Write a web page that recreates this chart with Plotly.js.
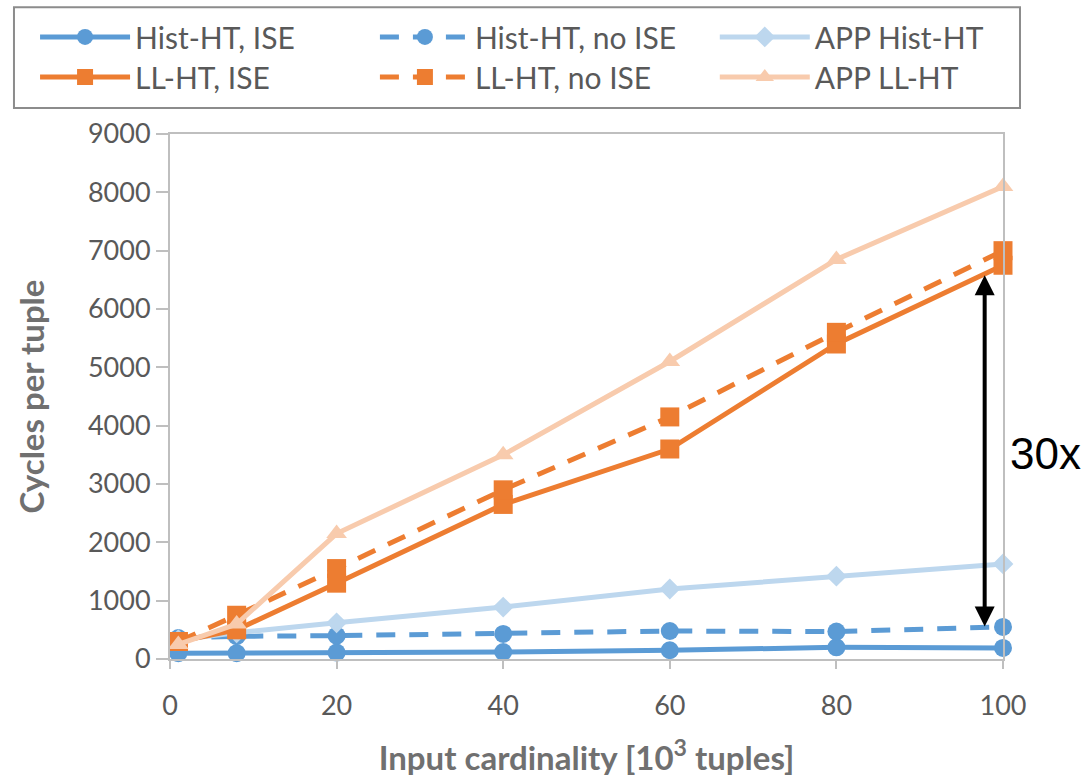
<!DOCTYPE html>
<html>
<head>
<meta charset="utf-8">
<script src="https://cdn.plot.ly/plotly-3.0.1.min.js"></script>
<style>html,body{margin:0;padding:0;background:#fff;}#chart{width:1091px;height:778px;}</style>
</head>
<body>
<div id="chart"></div>
<script>
const cardinality = [1, 8, 20, 40, 60, 80, 100];
const histISE   = [100, 100, 110, 120, 150, 200, 190];
const histNoISE = [360, 390, 400, 430, 480, 470, 550];
const appHist   = [330, 450, 620, 890, 1200, 1420, 1630];
const llISE     = [300, 500, 1300, 2650, 3600, 5400, 6750];
const llNoISE   = [300, 750, 1550, 2900, 4150, 5600, 7000];
const appLL     = [250, 600, 2150, 3500, 5100, 6850, 8100];
const xTicks = [0, 20, 40, 60, 80, 100];
const arrowX = 97.8, arrowTop = 6580, arrowBottom = 530;
const arrowLabel = '30x';

const BLUE = '#5B9BD5', ORANGE = '#ED7D31', LBLUE = '#BDD7EE', LORANGE = '#F8CBAD';
const dash = '19px,14px';
const LW = 5;

const traces = [
  {name:'Hist-HT, ISE', y:histISE, legend:'legend', line:{color:BLUE,width:LW}, marker:{symbol:'circle',size:18,color:BLUE}},
  {name:'Hist-HT, no ISE', y:histNoISE, legend:'legend2', line:{color:BLUE,width:LW,dash:dash}, marker:{symbol:'circle',size:18,color:BLUE}},
  {name:'APP Hist-HT', y:appHist, legend:'legend3', line:{color:LBLUE,width:LW}, marker:{symbol:'diamond',size:16,color:LBLUE}},
  {name:'LL-HT, ISE', y:llISE, legend:'legend4', line:{color:ORANGE,width:LW}, marker:{symbol:'square',size:19,color:ORANGE}},
  {name:'LL-HT, no ISE', y:llNoISE, legend:'legend5', line:{color:ORANGE,width:LW,dash:dash}, marker:{symbol:'square',size:19,color:ORANGE}},
  {name:'APP LL-HT', y:appLL, legend:'legend6', line:{color:LORANGE,width:LW}, marker:{symbol:'triangle-up',size:18,color:LORANGE}}
].map(t => Object.assign({type:'scatter', mode:'lines+markers', x:cardinality, cliponaxis:false}, t));

const FONT = 'Lato, "Open Sans", sans-serif';
const legendBase = {orientation:'v', xanchor:'left', yanchor:'top', itemwidth:90,
  font:{family:FONT, size:30, color:'#595959'},
  bgcolor:'rgba(0,0,0,0)', borderwidth:0};
const colX = [-0.162, 0.246, 0.654];
const rowY = [1.232, 1.1559];
const axisCommon = {
  showline:true, mirror:true, linecolor:'#BFBFBF', linewidth:2,
  ticks:'outside', tickcolor:'#BFBFBF', tickwidth:2,
  showgrid:false, zeroline:false, automargin:false,
  tickfont:{family:FONT, size:27, color:'#595959'}
};

const layout = {
  width:1091, height:778,
  margin:{l:170, r:88, t:133, b:119},
  paper_bgcolor:'#fff', plot_bgcolor:'#fff',
  showlegend:true,
  legend:Object.assign({}, legendBase, {x:colX[0], y:rowY[0]}),
  legend2:Object.assign({}, legendBase, {x:colX[1], y:rowY[0]}),
  legend3:Object.assign({}, legendBase, {x:colX[2], y:rowY[0]}),
  legend4:Object.assign({}, legendBase, {x:colX[0], y:rowY[1]}),
  legend5:Object.assign({}, legendBase, {x:colX[1], y:rowY[1]}),
  legend6:Object.assign({}, legendBase, {x:colX[2], y:rowY[1]}),
  xaxis:Object.assign({}, axisCommon, {range:[0,100], tickvals:xTicks, ticklen:8, ticklabelstandoff:14,
    title:{text:'<b>Input cardinality [10<sup>3</sup> tuples]</b>', font:{family:FONT,size:33,color:'#707070'}, standoff:26}}),
  yaxis:Object.assign({}, axisCommon, {range:[0,9000], dtick:1000, ticklen:12,
    title:{text:'<b>Cycles per tuple</b>', font:{family:FONT,size:33,color:'#707070'}, standoff:33}}),
  shapes:[{type:'rect', xref:'paper', yref:'paper', x0:-0.1873, x1:1.0204, y0:1.0494, y1:1.2414,
    line:{color:'#8C8C8C', width:2}, fillcolor:'rgba(0,0,0,0)'}],
  annotations:[
    {x:arrowX, y:arrowTop, ax:arrowX, ay:arrowBottom, xref:'x', yref:'y', axref:'x', ayref:'y',
     text:'', showarrow:true, arrowhead:2, arrowside:'end+start', arrowwidth:4, arrowsize:1, arrowcolor:'#000'},
    {x:1.006, y:3525, xref:'paper', yref:'y', xanchor:'left', yanchor:'middle', showarrow:false,
     text:arrowLabel, font:{family:'"Liberation Sans", Arial, sans-serif', size:44, color:'#000'}}
  ]
};

Plotly.newPlot('chart', traces, layout, {displayModeBar:false, staticPlot:true});
</script>
</body>
</html>
